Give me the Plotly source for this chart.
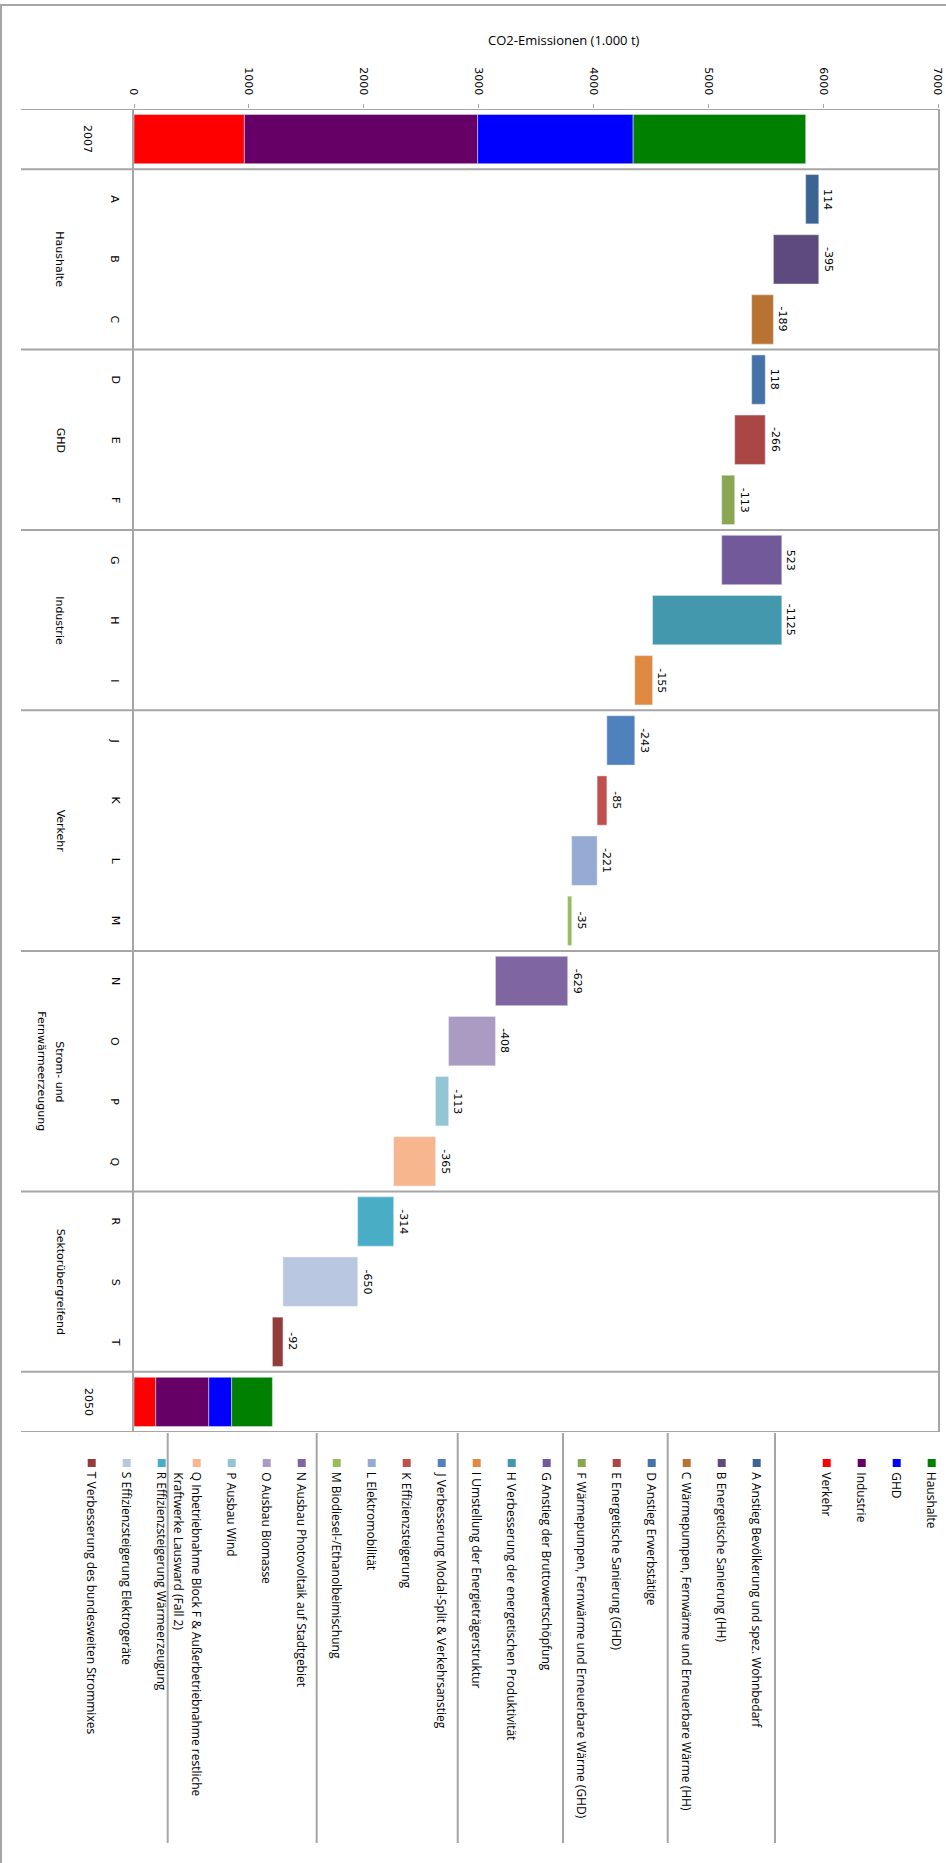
import plotly.graph_objects as go

# ---- data ----
stack_sectors = ["Verkehr", "Industrie", "GHD", "Haushalte"]   # left to right in the 2007/2050 bars
stack_colors = ["#FF0000", "#660066", "#0000FF", "#008000"]
emis_2007 = [961, 2031, 1354, 1502]
emis_2050 = [189, 462, 199, 355]

measure_codes = list("ABCDEFGHIJKLMNOPQRST")
measure_deltas = [114, -395, -189, 118, -266, -113, 523, -1125, -155,
                  -243, -85, -221, -35, -629, -408, -113, -365, -314, -650, -92]
measure_colors = ["#3D6392", "#5E4A7C", "#B87333", "#4572A7", "#AA4644", "#8AA650",
                  "#72599A", "#4398AE", "#DF8A40", "#4F81BD", "#C0504D", "#95ABD3",
                  "#9BBB59", "#8065A3", "#A99BC1", "#93C5D5", "#F8B68E", "#4AADC6",
                  "#BAC7E1", "#943C3A"]
measure_names = [
    "Anstieg Bevölkerung und spez. Wohnbedarf",
    "Energetische Sanierung (HH)",
    "Wärmepumpen, Fernwärme und Erneuerbare Wärme (HH)",
    "Anstieg Erwerbstätige",
    "Energetische Sanierung (GHD)",
    "Wärmepumpen, Fernwärme und Erneuerbare Wärme (GHD)",
    "Anstieg der Bruttowertschöpfung",
    "Verbesserung der energetischen Produktivität",
    "Umstellung der Energieträgerstruktur",
    "Verbesserung Modal-Split & Verkehrsanstieg",
    "Effizienzsteigerung",
    "Elektromobilität",
    "Biodiesel-/Ethanolbeimischung",
    "Ausbau Photovoltaik auf Stadtgebiet",
    "Ausbau Biomasse",
    "Ausbau Wind",
    "Inbetriebnahme Block F & Außerbetriebnahme restliche<br>Kraftwerke Lausward (Fall 2)",
    "Effizienzsteigerung Wärmeerzeugung",
    "Effizienzsteigerung Elektrogeräte",
    "Verbesserung des bundesweiten Strommixes",
]
groups = ["Haushalte", "GHD", "Industrie", "Verkehr",
          "Strom- und<br>Fernwärmeerzeugung", "Sektorübergreifend"]
group_sizes = [3, 3, 3, 4, 4, 3]
legend_sectors = ["Haushalte", "GHD", "Industrie", "Verkehr"]

categories = ["2007"] + measure_codes + ["2050"]

# ---- pixel layout helpers ----
W, H = 946, 1863
PL, PR, PT, PB = 134, 938, 109, 1432
GREY = "#A6A6A6"


def px(x):
    return (x - PL) / (PR - PL)


def py(y):
    return (PB - y) / (PB - PT)


fig = go.Figure()

# stacked start / end bars
left07, left50 = 0, 0
for name, col, v07, v50 in zip(stack_sectors, stack_colors, emis_2007, emis_2050):
    fig.add_trace(go.Bar(orientation="h", y=["2007", "2050"], x=[v07, v50],
                         base=[left07, left50], marker_color=col, name=name,
                         showlegend=False))
    left07 += v07
    left50 += v50

# waterfall steps
running = sum(emis_2007)
bases, widths, label_x = [], [], []
for d in measure_deltas:
    end = running + d
    bases.append(min(running, end))
    widths.append(abs(d))
    label_x.append(max(running, end))
    running = end

fig.add_trace(go.Bar(orientation="h", y=measure_codes, x=widths, base=bases,
                     marker_color=measure_colors, showlegend=False))

annotations = []
shapes = []

# value labels
for code, d, lx in zip(measure_codes, measure_deltas, label_x):
    annotations.append(dict(x=lx, y=code, xref="x", yref="y", text=str(d),
                            textangle=90, showarrow=False, xanchor="left",
                            yanchor="middle", xshift=1,
                            font=dict(family="DejaVu Sans", size=11, color="black")))

# category labels
for i, c in enumerate(categories):
    xc = 88 if c in ("2007", "2050") else 115
    annotations.append(dict(x=px(xc), y=i, xref="paper", yref="y", text=c,
                            textangle=90, showarrow=False, xanchor="center",
                            yanchor="middle",
                            font=dict(family="DejaVu Sans", size=11, color="black")))


def rotated_lines(text, xc, y, yref, yanchor, font, gap=18):
    # first line on the right, following lines step to the left
    for k, ln in enumerate(text.split("<br>")):
        annotations.append(dict(x=px(xc - k * gap), y=y, xref="paper", yref=yref,
                                text=ln, textangle=90, showarrow=False,
                                xanchor="center", yanchor=yanchor, font=font))


# group labels
start = 1
for g, n in zip(groups, group_sizes):
    rotated_lines(g, 60, start + (n - 1) / 2, "y", "middle",
                  dict(family="DejaVu Sans", size=11, color="black"))
    start += n

# horizontal separators
bounds = [-0.5, 0.5]
acc = 0.5
for n in group_sizes:
    acc += n
    bounds.append(acc)
bounds.append(acc + 1)
for b in bounds:
    shapes.append(dict(type="line", xref="paper", yref="y", x0=px(21), x1=1,
                       y0=b, y1=b, line=dict(color=GREY, width=2)))

# outer chart border (top / left)
shapes.append(dict(type="line", xref="paper", yref="paper", x0=px(0), x1=px(W),
                   y0=py(5), y1=py(5), line=dict(color=GREY, width=2)))
shapes.append(dict(type="line", xref="paper", yref="paper", x0=px(1), x1=px(1),
                   y0=py(4), y1=py(H), line=dict(color=GREY, width=2)))

# legend (rotated)
legend_labels = legend_sectors + [c + " " + n for c, n in zip(measure_codes, measure_names)]
legend_colors = [stack_colors[stack_sectors.index(s)] for s in legend_sectors] + measure_colors
for i, (lab, col) in enumerate(zip(legend_labels, legend_colors)):
    slot = i if i < 4 else i + 1
    xc = 931.7 - 35 * slot
    shapes.append(dict(type="rect", xref="paper", yref="paper",
                       x0=px(xc - 4), x1=px(xc + 4), y0=py(1459), y1=py(1467),
                       fillcolor=col, line=dict(width=0)))
    rotated_lines(lab, xc, py(1470), "paper", "top",
                  dict(family="Open Sans", size=12, color="black"))

for sx in [775, 667.7, 563, 457.7, 316.7, 167.7]:
    shapes.append(dict(type="line", xref="paper", yref="paper", x0=px(sx), x1=px(sx),
                       y0=py(1433), y1=py(1843), line=dict(color=GREY, width=2)))

# axis title
annotations.append(dict(x=px(564), y=py(40), xref="paper", yref="paper",
                        text="CO2-Emissionen (1.000 t)", showarrow=False,
                        xanchor="center", yanchor="middle",
                        font=dict(family="Open Sans", size=13, color="black")))

fig.update_layout(
    width=W, height=H,
    margin=dict(l=PL, r=W - PR, t=PT, b=H - PB),
    plot_bgcolor="white", paper_bgcolor="white",
    barmode="overlay", bargap=0.18,
    showlegend=False,
    annotations=annotations, shapes=shapes,
    xaxis=dict(side="top", range=[0, 7000], dtick=1000, tickangle=90,
               showgrid=False, zeroline=False, showline=False, automargin=False,
               ticks="outside", ticklen=4, tickcolor=GREY, ticklabelstandoff=5,
               tickfont=dict(family="DejaVu Sans", size=11, color="black")),
    yaxis=dict(type="category", categoryorder="array", categoryarray=categories,
               range=[len(categories) - 0.5, -0.5], showticklabels=False,
               showgrid=False, zeroline=False, showline=True, mirror=True,
               automargin=False, linecolor=GREY, linewidth=2, ticks=""),
)

# page body has a default 8px margin; remove it so the figure sits at the window origin
fig.write_html("out.html", config={"displayModeBar": False},
               post_script="document.body.style.margin='0px';")
